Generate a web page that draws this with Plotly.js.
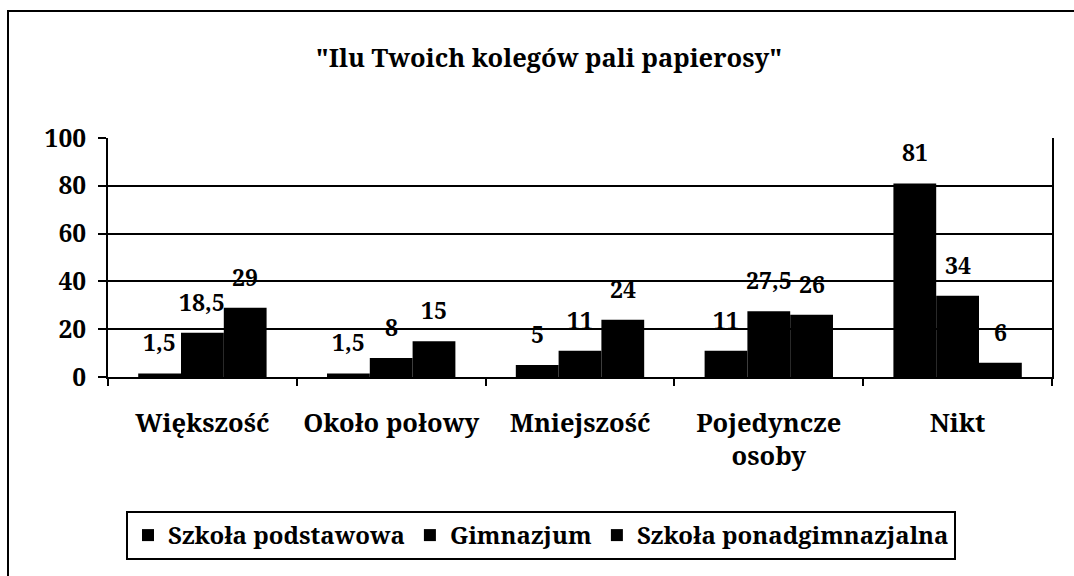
<!DOCTYPE html>
<html>
<head>
<meta charset="utf-8">
<script src="https://cdn.plot.ly/plotly-3.0.1.min.js"></script>
<style>html,body{margin:0;padding:0;background:#fff;}#chart{width:1074px;height:576px;}</style>
</head>
<body>
<div id="chart"></div>
<script>
var categories = ["Większość", "Około połowy", "Mniejszość", "Pojedyncze<br>osoby", "Nikt"];
var seriesNames = ["Szkoła podstawowa", "Gimnazjum", "Szkoła ponadgimnazjalna"];
var podstawowa = [1.5, 1.5, 5, 11, 81];
var gimnazjum = [18.5, 8, 11, 27.5, 34];
var ponadgimnazjalna = [29, 15, 24, 26, 6];
var yTicks = [0, 20, 40, 60, 80, 100];
var titleText = '"Ilu Twoich kolegów pali papierosy"';

var allSeries = [podstawowa, gimnazjum, ponadgimnazjalna];
var FONT = "Noto Serif, DejaVu Serif, serif";

var traces = allSeries.map(function (vals, i) {
  return {
    type: "bar",
    name: seriesNames[i],
    x: categories,
    y: vals,
    marker: {color: "#000000", line: {width: 0}},
    hoverinfo: "x+y+name"
  };
});

var W = 1074, H = 576;
var margin = {l: 108, r: 22, t: 138, b: 199};
var plotW = W - margin.l - margin.r;
var plotH = H - margin.t - margin.b;
var bargap = 0.32;
var barPx = plotW / categories.length * (1 - bargap) / allSeries.length;
var annotations = [];
allSeries.forEach(function (vals, s) {
  vals.forEach(function (v, k) {
    annotations.push({
      x: categories[k], y: v, xref: "x", yref: "y",
      text: String(v).replace(".", ","),
      showarrow: false, xanchor: "center", yanchor: "bottom",
      xshift: (s - 1) * barPx, yshift: 13,
      font: {family: FONT, size: 23, color: "#000", weight: "bold"}
    });
  });
});

function px2x(p) { return (p - margin.l) / plotW; }
function py2y(p) { return (H - margin.b - p) / plotH; }

var layout = {
  width: W, height: H,
  margin: {l: margin.l, r: margin.r, t: margin.t, b: margin.b, autoexpand: false},
  paper_bgcolor: "#ffffff", plot_bgcolor: "#ffffff",
  font: {family: FONT, color: "#000", weight: "bold"},
  title: {
    text: titleText,
    font: {family: FONT, size: 25.5, color: "#000", weight: "bold"},
    x: 549 / W, xref: "container", xanchor: "center",
    y: 1 - 58 / H, yref: "container", yanchor: "middle"
  },
  barmode: "group", bargap: bargap, bargroupgap: 0,
  showlegend: true,
  legend: {
    orientation: "h",
    x: px2x(126), xanchor: "left",
    y: py2y(511), yanchor: "top",
    bordercolor: "#000", borderwidth: 2, bgcolor: "#fff",
    font: {family: FONT, size: 24, color: "#000", weight: "bold"},
    itemclick: false, itemdoubleclick: false,
    traceorder: "normal"
  },
  xaxis: {
    type: "category",
    showline: true, linecolor: "#000", linewidth: 2,
    ticks: "outside", tickson: "boundaries", ticklen: 7, tickwidth: 2, tickcolor: "#000",
    tickfont: {family: FONT, size: 25.5, color: "#000", weight: "bold"},
    tickangle: 0,
    ticklabelstandoff: 22,
    showgrid: false, zeroline: false, fixedrange: true
  },
  yaxis: {
    range: [0, 100], tickvals: yTicks,
    showline: true, mirror: true, linecolor: "#000", linewidth: 2,
    ticks: "outside", ticklen: 8, tickwidth: 2, tickcolor: "#000",
    tickfont: {family: FONT, size: 24.5, color: "#000", weight: "bold"},
    ticklabelstandoff: 7,
    showgrid: true, gridcolor: "#000", gridwidth: 2,
    zeroline: false, fixedrange: true
  },
  annotations: annotations,
  shapes: [
    {type: "rect", xref: "paper", yref: "paper",
     x0: px2x(8), x1: px2x(1100), y0: py2y(600), y1: py2y(11),
     line: {color: "#000", width: 2}, fillcolor: "rgba(0,0,0,0)", layer: "below"}
  ]
};

Plotly.newPlot("chart", traces, layout, {displayModeBar: false, staticPlot: true});
</script>
</body>
</html>
